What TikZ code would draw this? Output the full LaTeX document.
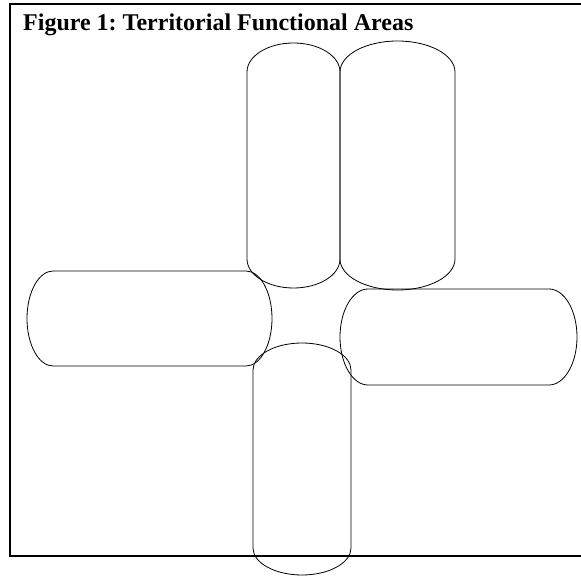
\documentclass[tikz,border=0pt]{standalone}
\usepackage{fontspec}
\setmainfont{Liberation Serif}
\frenchspacing
\usetikzlibrary{calc}
\tikzset{area/.style={draw, line width=0.8pt},
  frame/.style={draw, line width=1.6pt},
  caption/.style={font=\bfseries\fontsize{24}{28}\selectfont, anchor=base west, inner sep=0pt}}
\newcommand{\varea}[5]{%
  \draw[area] (#1,#3-#5) arc[start angle=180, end angle=0, x radius={(#2-#1)/2}, y radius=#5]
    -- (#2,#4+#5) arc[start angle=0, end angle=-180, x radius={(#2-#1)/2}, y radius=#5] -- cycle;}
\newcommand{\harea}[5]{%
  \draw[area] (#1+#5,#3) -- (#2-#5,#3) arc[start angle=90, end angle=-90, x radius=#5, y radius={(#3-#4)/2}]
    -- (#1+#5,#4) arc[start angle=270, end angle=90, x radius=#5, y radius={(#3-#4)/2}] -- cycle;}

\begin{document}
\begin{tikzpicture}[x=1pt, y=1pt]
  \useasboundingbox (0,0) rectangle (581,576);
  \clip (0,0) rectangle (581,576);
  \draw[frame] (10,20) rectangle (600,572);
  \node[caption] (title) at (23,545) {Figure 1: Territorial Functional Areas};
  \varea{247}{340}{533}{288}{29}
  \varea{340}{455}{535}{286}{31}
  \harea{27}{272}{305}{210}{26}
  \harea{340}{577}{287}{191}{28}
  \varea{253}{351}{233}{1}{27}
\end{tikzpicture}
\end{document}
